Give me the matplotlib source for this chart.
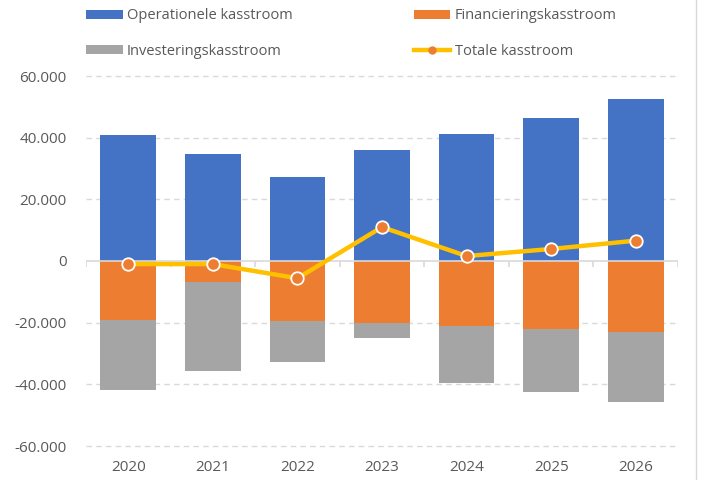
import matplotlib
matplotlib.use("Agg")
import matplotlib.pyplot as plt
import numpy as np
from matplotlib.ticker import FuncFormatter
from matplotlib.lines import Line2D

years = ["2020", "2021", "2022", "2023", "2024", "2025", "2026"]
operationeel = [40900, 34700, 27200, 36000, 41200, 46400, 52500]
financiering = [-19100, -6800, -19500, -20100, -21100, -22100, -23000]
investering = [-22700, -28900, -13300, -4900, -18500, -20400, -22700]
totaal = [-1000, -1000, -5600, 11000, 1600, 3900, 6600]
yticks = [-60000, -40000, -20000, 0, 20000, 40000, 60000]

plt.rcParams['font.family'] = ['Open Sans', 'DejaVu Sans']
txt = '#595959'
c_blue, c_orange, c_gray, c_yellow = '#4472C4', '#ED7D31', '#A5A5A5', '#FFC000'

fig = plt.figure(figsize=(7.02, 4.8), dpi=100)
ax = fig.add_axes([86/702, 1-446/480, (678-86)/702, (446-76)/480])

x = np.arange(len(years))
w = 0.66
ax.bar(x, operationeel, w, color=c_blue, label='Operationele kasstroom', zorder=2)
ax.bar(x, financiering, w, color=c_orange, label='Financieringskasstroom', zorder=2)
ax.bar(x, investering, w, bottom=financiering, color=c_gray, label='Investeringskasstroom', zorder=2)
ax.plot(x, totaal, color=c_yellow, lw=3.2, marker='o', markersize=9,
        markerfacecolor=c_orange, markeredgecolor='white', markeredgewidth=1.3,
        label='Totale kasstroom', zorder=4)

ax.set_xlim(-0.5, len(years)-0.5)
ax.set_ylim(-60000, 60000)
ax.set_yticks(yticks)
ax.yaxis.set_major_formatter(FuncFormatter(lambda v, p: f"{int(v):,}".replace(",", ".")))
ax.set_xticks(x)
ax.set_xticklabels(years)
ax.tick_params(axis='both', length=0, labelsize=11, colors=txt)
ax.tick_params(axis='x', pad=10)
ax.tick_params(axis='y', pad=14)
for s in ax.spines.values():
    s.set_visible(False)
for t in yticks:
    if t != 0:
        ax.axhline(t, color='#D9D9D9', lw=1, ls=(0, (4, 3)), zorder=0, clip_on=False)
ax.axhline(0, color='#D9D9D9', lw=1.2, zorder=3)
ax.vlines(np.arange(len(years)+1)-0.5, -2000, 0, color='#D9D9D9', lw=1.2, zorder=3)

h, l = ax.get_legend_handles_labels()
# h: line, op, fin, inv -> rows: Op, Fin / Inv, Tot (column-major fill for ncol=2)
handles = [h[1], h[3], h[2], h[0]]
labels = [l[1], l[3], l[2], l[0]]
leg = fig.legend(handles, labels, ncol=2, loc='upper left', bbox_to_anchor=(73/702, 1.01),
                 frameon=False, fontsize=10.5, labelcolor=txt, handlelength=2.5,
                 handleheight=0.6, handletextpad=0.3, columnspacing=8.3, labelspacing=1.4)
for lh in leg.legend_handles:
    if isinstance(lh, Line2D):
        lh.set_markersize(6)
        lh.set_markeredgewidth(0)

fig.add_artist(Line2D([696/702, 696/702], [0, 1], color='#D9D9D9', lw=1))

fig.savefig('out.png', dpi=100)
